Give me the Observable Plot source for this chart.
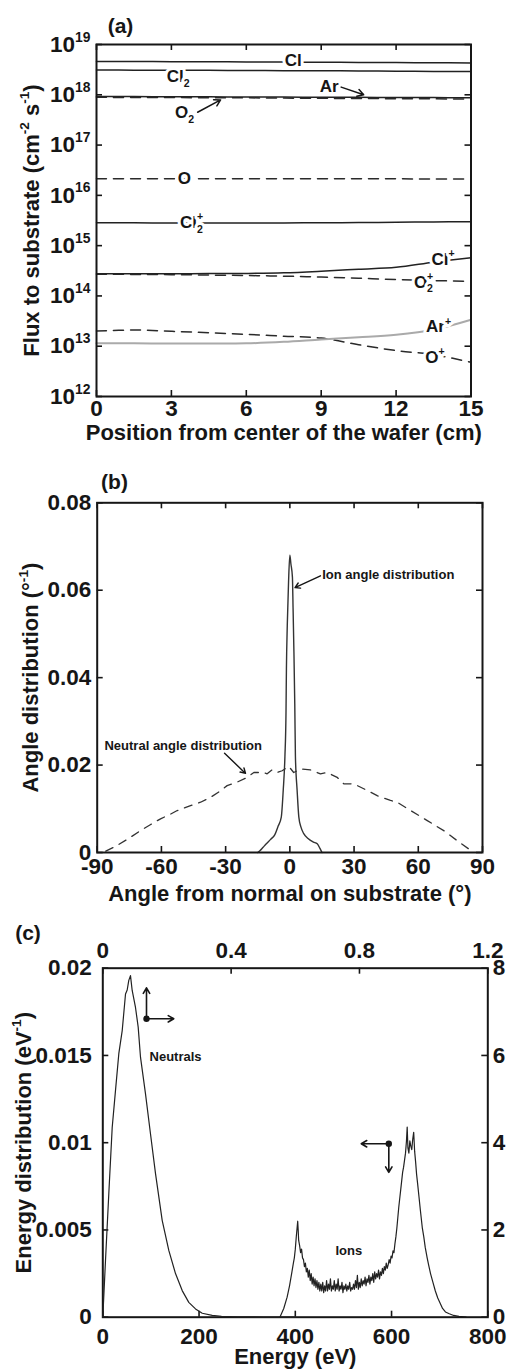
<!DOCTYPE html>
<html><head><meta charset="utf-8">
<script src="https://cdn.jsdelivr.net/npm/d3@7"></script>
<script src="https://cdn.jsdelivr.net/npm/@observablehq/plot@0.6"></script>
<style>
body{margin:0;background:#fff;}
#wrap{position:relative;width:509px;height:1371px;background:#fff;}
#wrap svg{position:absolute;left:0;}
</style></head><body><div id="wrap"></div>
<script>
// ===================== DATA =====================
// Panel (a): flux to substrate vs position (cm)
const posCm = [0, 1.5, 3, 4.5, 6, 7.5, 9, 10.5, 12, 13.5, 15];
const fluxCl   = [4.6e18, 4.58e18, 4.56e18, 4.53e18, 4.5e18, 4.47e18, 4.44e18, 4.41e18, 4.38e18, 4.34e18, 4.3e18];
const fluxCl2  = [3.1e18, 3.09e18, 3.08e18, 3.06e18, 3.04e18, 3.02e18, 3.0e18, 2.98e18, 2.95e18, 2.92e18, 2.9e18];
const fluxAr   = [9.2e17, 9.2e17, 9.15e17, 9.1e17, 9.05e17, 9.0e17, 8.95e17, 8.9e17, 8.85e17, 8.8e17, 8.7e17];
const fluxO2   = [8.9e17, 8.85e17, 8.8e17, 8.75e17, 8.7e17, 8.6e17, 8.5e17, 8.45e17, 8.35e17, 8.3e17, 8.2e17];
const fluxO    = [2.15e16, 2.15e16, 2.15e16, 2.14e16, 2.14e16, 2.14e16, 2.13e16, 2.13e16, 2.13e16, 2.12e16, 2.12e16];
const fluxCl2p = [2.85e15, 2.84e15, 2.83e15, 2.82e15, 2.82e15, 2.83e15, 2.85e15, 2.88e15, 2.92e15, 2.96e15, 3.0e15];
const fluxClp  = [2.76e14, 2.76e14, 2.76e14, 2.78e14, 2.8e14, 2.88e14, 3.1e14, 3.4e14, 3.72e14, 4.7e14, 5.75e14];
const fluxO2p  = [2.7e14, 2.68e14, 2.65e14, 2.6e14, 2.55e14, 2.47e14, 2.38e14, 2.25e14, 2.12e14, 2.02e14, 1.95e14];
const fluxArp  = [1.15e13, 1.14e13, 1.13e13, 1.13e13, 1.14e13, 1.22e13, 1.36e13, 1.5e13, 1.69e13, 2.13e13, 3.36e13];
const fluxOp   = [2.0e13, 2.1e13, 1.98e13, 1.85e13, 1.72e13, 1.58e13, 1.45e13, 1.07e13, 8.2e12, 6.8e12, 4.8e12];
const speciesA = ["Cl", "Cl2", "Ar", "O2", "O", "Cl2+", "Cl+", "O2+", "Ar+", "O+"];
const fluxA = [fluxCl, fluxCl2, fluxAr, fluxO2, fluxO, fluxCl2p, fluxClp, fluxO2p, fluxArp, fluxOp];
const aXTicks = [0, 3, 6, 9, 12, 15];
const aYTicks = [1e12, 1e13, 1e14, 1e15, 1e16, 1e17, 1e18, 1e19];
const aXTitle = "Position from center of the wafer (cm)";
const aYTitle = "Flux to substrate (cm^{-2} s^{-1})";
const labelsA = [
  {t: "Cl", x: 7.88, y: 4.75e18},
  {t: "Cl_{2}", x: 3.27, y: 2.33e18},
  {t: "Ar", x: 9.32, y: 1.47e18},
  {t: "O_{2}", x: 3.53, y: 4.4e17},
  {t: "O", x: 3.52, y: 2.17e16},
  {t: "Cl_{2}^{+}", x: 3.81, y: 2.87e15},
  {t: "Cl^{+}", x: 13.88, y: 5.27e14},
  {t: "O_{2}^{+}", x: 13.1, y: 1.88e14},
  {t: "Ar^{+}", x: 13.7, y: 2.44e13},
  {t: "O^{+}", x: 13.56, y: 5.98e12}
];
const arrowsA = [
  {x1: 9.8, y1: 1.42e18, x2: 10.7, y2: 1.0e18},
  {x1: 4.05, y1: 4.5e17, x2: 4.97, y2: 7.9e17}
];

// Panel (b): angle distributions
const ionAngle = [-15, -14, -12.5, -11, -9, -7, -5.5, -4, -3.1, -2.3, -1.8, -1.6, -1.2, -0.6, 0, 0.5, 1.2, 1.5, 1.9, 2.3, 2.6, 3.4, 4.2, 5.2, 6.5, 8.5, 11, 12.8, 14, 15];
const ionAngDist = [0, 0.0004, 0.0012, 0.002, 0.003, 0.0041, 0.006, 0.0081, 0.0142, 0.022, 0.032, 0.042, 0.052, 0.062, 0.068, 0.066, 0.063, 0.056, 0.046, 0.034, 0.022, 0.0142, 0.0081, 0.0058, 0.0043, 0.0032, 0.0024, 0.002, 0.001, 0];
const neuAngle = [-86, -80.7, -75, -69.8, -65, -60.4, -56, -52.6, -46.4, -41.7, -37.1, -33, -29.3, -24.6, -19.9, -16.8, -12.2, -10.6, -8.3, -5.9, -3.6, -0.5, 1.8, 5, 9.6, 14.3, 17.4, 22.1, 25.2, 29.9, 36.1, 40.8, 47, 50.1, 56.4, 64.2, 71.9, 78.2, 83.6, 85.2];
const neuAngDist = [0.0003, 0.0016, 0.0033, 0.005, 0.0064, 0.0077, 0.0087, 0.0096, 0.0107, 0.0115, 0.0126, 0.0139, 0.0153, 0.0161, 0.0172, 0.0183, 0.0183, 0.018, 0.0189, 0.0183, 0.0187, 0.0197, 0.0183, 0.0191, 0.0189, 0.018, 0.0183, 0.0172, 0.0157, 0.0157, 0.0142, 0.013, 0.0119, 0.0115, 0.0096, 0.0073, 0.005, 0.0027, 0.0008, 0];
const bXTicks = [-90, -60, -30, 0, 30, 60, 90];
const bYTicks = [0, 0.02, 0.04, 0.06, 0.08];
const bXTitle = "Angle from normal on substrate (°)";
const bYTitle = "Angle distribution (°^{-1})";
const labelsB = [
  {t: "Ion angle distribution", x: 15.1, y: 0.0635},
  {t: "Neutral angle distribution", x: -86.6, y: 0.0245}
];
const arrowsB = [
  {x1: 14.3, y1: 0.0633, x2: 2.4, y2: 0.0606},
  {x1: -30.5, y1: 0.0227, x2: -20.7, y2: 0.0181}
];

// Panel (c): energy distributions
// Ions: bottom axis (eV, 0-800) / left axis (eV^-1)
const ionEnergy = [368,376,383,388,393,396,398,400,402,404,405,406,407,409,411,413,415,417,419,421,423,425,427,429,431,433,435,437,439,441,443,445,447,449,451,453,455,457,459,461,463,465,467,469,471,473,475,477,479,481,483,485,487,489,491,493,495,497,499,501,503,505,507,509,511,513,515,517,519,521,523,525,527,529,531,533,535,537,539,541,543,545,547,549,551,553,555,557,559,561,563,565,567,569,571,573,575,577,579,581,583,585,587,589,591,593,595,597,599,601,603,605,607,609,611,613,615,617,619,621,623,625,627,629,631,632.5,634,636,638,640,642,644,646,648,650,652,654,657,660,664,667,670,674,677,681,686,691,696,701,706,712,720,729,740,755];
const ionEDist = [0,0.0005,0.00115,0.0018,0.0026,0.0031,0.0034,0.0039,0.0046,0.0052,0.0055,0.005,0.0044,0.0041,0.0037,0.0039,0.0034,0.0033,0.0029,0.0031,0.0026,0.0028,0.0023,0.0027,0.0021,0.0025,0.0019,0.0023,0.0018,0.0022,0.0017,0.0021,0.0016,0.002,0.0015,0.0019,0.0015,0.002,0.0014,0.0018,0.0015,0.0021,0.0015,0.0019,0.0016,0.0022,0.0015,0.0018,0.0016,0.0021,0.0015,0.0019,0.0016,0.0022,0.0015,0.0018,0.0016,0.002,0.0014,0.0018,0.0016,0.0019,0.0015,0.0018,0.0016,0.002,0.0015,0.0017,0.0016,0.0019,0.0016,0.0021,0.0017,0.0024,0.0016,0.002,0.0017,0.0022,0.0018,0.0021,0.0019,0.0023,0.0018,0.0022,0.002,0.0024,0.0019,0.0023,0.0021,0.0025,0.002,0.0026,0.0022,0.0025,0.0023,0.0027,0.0022,0.0026,0.0024,0.0028,0.0025,0.0029,0.0027,0.0031,0.0028,0.003,0.0033,0.0031,0.0035,0.0034,0.0038,0.0037,0.0042,0.0046,0.0051,0.0057,0.0063,0.0068,0.0073,0.0078,0.0083,0.0086,0.009,0.0094,0.0101,0.0109,0.0097,0.0094,0.0101,0.0098,0.0096,0.0102,0.0106,0.0095,0.0089,0.0082,0.0077,0.0069,0.0061,0.0051,0.0046,0.004,0.0034,0.003,0.0025,0.002,0.0015,0.0011,0.0008,0.0005,0.0003,0.0002,0.0001,0.00005,0];
// Neutrals: top axis (eV, 0-1.2) / right axis
const neuEnergy = [0, 0.0084, 0.0187, 0.0293, 0.0396, 0.0499, 0.0605, 0.0708, 0.076, 0.081, 0.0863, 0.0916, 0.1019, 0.1103, 0.1175, 0.1331, 0.1487, 0.1643, 0.1851, 0.2057, 0.2266, 0.2475, 0.268, 0.289, 0.31, 0.341, 0.37, 0.42, 0.5, 0.6];
const neuEDist = [0, 1.3, 2.83, 4.35, 5.2, 6.04, 6.57, 7.41, 7.5, 7.72, 7.83, 7.49, 7.1, 6.65, 5.96, 5.12, 4.2, 3.29, 2.22, 1.53, 1.0, 0.61, 0.34, 0.19, 0.09, 0.04, 0.02, 0.01, 0.005, 0];
const cXTicks = [0, 200, 400, 600, 800];
const cYTicks = [0, 0.005, 0.01, 0.015, 0.02];
const cX2Ticks = [0, 0.4, 0.8, 1.2];
const cY2Ticks = [0, 2, 4, 6, 8];
const cXTitle = "Energy (eV)";
const cYTitle = "Energy distribution (eV^{-1})";
const ionDot = [{x: 594.3, y: 0.00994}];
const ionArrows = [{x1: 594.3, y1: 0.00994, x2: 537, y2: 0.00994}, {x1: 594.3, y1: 0.00994, x2: 594.3, y2: 0.0083}];
const ionLabel = [{t: "Ions", x: 483.5, y: 0.00382}];
const neuDot = [{x: 0.1362, y: 6.84}];
const neuArrows = [{x1: 0.1362, y1: 6.84, x2: 0.1362, y2: 7.55}, {x1: 0.1362, y1: 6.84, x2: 0.2213, y2: 6.84}];
const neuLabel = [{t: "Neutrals", x: 0.1456, y: 5.96}];

// ===================== RENDER =====================
const W = 509;
const FONT = "'Liberation Sans', Arial, Helvetica, sans-serif";
const INK = "#161616";
const TITLE = 22;
const baseStyle = {fontFamily: FONT, fontWeight: "bold", fontSize: "22.5px", color: INK, background: "white", overflow: "visible"};

function richText(svg) {
  svg.querySelectorAll("text").forEach(t => {
    const s = t.textContent;
    if (!/[\^_]\{/.test(s)) return;
    const fs = parseFloat(getComputedStyle(t).fontSize) || 16;
    const parts = s.match(/\^\{[^}]*\}|_\{[^}]*\}|[^\^_]+/g);
    while (t.firstChild) t.removeChild(t.firstChild);
    let shift = 0, prev = null, prevKind = null;
    for (const p of parts) {
      const kind = p.startsWith("^{") ? "sup" : p.startsWith("_{") ? "sub" : "base";
      const ts = document.createElementNS("http://www.w3.org/2000/svg", "tspan");
      ts.textContent = kind === "base" ? p : p.slice(2, -1);
      const target = kind === "sup" ? -0.45 * fs : kind === "sub" ? 0.28 * fs : 0;
      if (kind !== "base") ts.setAttribute("font-size", (0.62 * fs).toFixed(1) + "px");
      const d = target - shift;
      if (d) ts.setAttribute("dy", d.toFixed(2));
      if (prev && kind !== "base" && prevKind !== "base" && prevKind !== kind) {
        ts.setAttribute("dx", (-prev.getComputedTextLength()).toFixed(2));
      }
      t.appendChild(ts);
      shift = target; prev = ts; prevKind = kind;
    }
  });
}

function ticksIn(xt, yt, fh, fw, sides) {
  const m = [];
  const o = {stroke: INK, strokeWidth: 1.6};
  if (sides.includes("b")) m.push(Plot.ruleX(xt, {...o, insetTop: fh - 6}));
  if (sides.includes("t")) m.push(Plot.ruleX(xt, {...o, insetBottom: fh - 6}));
  if (sides.includes("l")) m.push(Plot.ruleY(yt, {...o, insetRight: fw - 6}));
  if (sides.includes("r")) m.push(Plot.ruleY(yt, {...o, insetLeft: fw - 6}));
  return m;
}

function titles(xTitle, xdy, yTitle, ydx, tag, tdx, tdy) {
  const o = {text: d => d, fontSize: TITLE, textAnchor: "middle", lineAnchor: "middle", fill: INK};
  return [
    Plot.text([xTitle], {...o, frameAnchor: "bottom", dy: xdy}),
    Plot.text([yTitle], {...o, frameAnchor: "left", dx: ydx, rotate: -90}),
    Plot.text([tag], {...o, fontSize: 21, frameAnchor: "top-left", dx: tdx, dy: tdy})
  ];
}

const wrap = document.getElementById("wrap");
function place(svg, top) { svg.style.top = top + "px"; wrap.appendChild(svg); richText(svg); }

// ---------- Panel (a) ----------
{
  const H = 470, mt = 44, mb = 74, ml = 96, mr = 38.5;
  const fh = H - mt - mb, fw = W - ml - mr;
  const rows = speciesA.flatMap((s, i) => posCm.map((x, j) => ({s, x, y: fluxA[i][j]})));
  const solid = ["Cl", "Cl2", "Ar", "Cl2+", "Cl+"];
  const dashed = ["O2", "O", "O2+", "O+"];
  const svg = Plot.plot({
    width: W, height: H, marginTop: mt, marginBottom: mb, marginLeft: ml, marginRight: mr,
    style: baseStyle,
    x: {domain: [0, 15]},
    y: {type: "log", domain: [1e12, 1e19]},
    marks: [
      Plot.line(rows.filter(d => dashed.includes(d.s)), {x: "x", y: "y", z: "s", stroke: "#2a2a2a", strokeWidth: 1.5, strokeDasharray: "10,7", curve: "catmull-rom"}),
      Plot.line(rows.filter(d => solid.includes(d.s)), {x: "x", y: "y", z: "s", stroke: "#222", strokeWidth: 1.5, curve: "catmull-rom"}),
      Plot.line(rows.filter(d => d.s === "Ar+"), {x: "x", y: "y", stroke: "#aaaaaa", strokeWidth: 2, curve: "catmull-rom"}),
      Plot.text(labelsA, {x: "x", y: "y", text: "t", fontSize: 17, fill: INK, stroke: "white", strokeWidth: 6, paintOrder: "stroke"}),
      Plot.arrow(arrowsA, {x1: "x1", y1: "y1", x2: "x2", y2: "y2", stroke: INK, strokeWidth: 1.5, headLength: 7}),
      ...ticksIn(aXTicks, aYTicks, fh, fw, "btlr"),
      Plot.frame({stroke: INK, strokeWidth: 2}),
      Plot.axisX({ticks: aXTicks, tickSize: 0, tickPadding: 4, label: null, tickFormat: d => String(d)}),
      Plot.axisY({ticks: aYTicks, tickSize: 0, tickPadding: 6, label: null, tickFormat: d => "10^{" + Math.round(Math.log10(d)) + "}"}),
      ...titles(aXTitle, 36, aYTitle, -65, "(a)", 24, -18.5)
    ]
  });
  place(svg, 0);
}

// ---------- Panel (b) ----------
{
  const H = 440, mt = 32.3, mb = 58, ml = 96.7, mr = 27;
  const fh = H - mt - mb, fw = W - ml - mr;
  const ion = ionAngle.map((x, i) => ({x, y: ionAngDist[i]}));
  const neu = neuAngle.map((x, i) => ({x, y: neuAngDist[i]}));
  const svg = Plot.plot({
    width: W, height: H, marginTop: mt, marginBottom: mb, marginLeft: ml, marginRight: mr,
    style: baseStyle,
    x: {domain: [-90, 90]},
    y: {domain: [0, 0.08]},
    marks: [
      Plot.line(neu, {x: "x", y: "y", stroke: "#333", strokeWidth: 1.3, strokeDasharray: "8,7"}),
      Plot.line(ion, {x: "x", y: "y", stroke: "#333", strokeWidth: 1.4, curve: "monotone-x"}),
      Plot.text(labelsB, {x: "x", y: "y", text: "t", fontSize: 13, textAnchor: "start", fill: INK}),
      Plot.arrow(arrowsB, {x1: "x1", y1: "y1", x2: "x2", y2: "y2", stroke: INK, strokeWidth: 1.4, headLength: 6}),
      ...ticksIn(bXTicks, bYTicks, fh, fw, "btlr"),
      Plot.frame({stroke: INK, strokeWidth: 2}),
      Plot.axisX({ticks: bXTicks, tickSize: 0, tickPadding: 6, label: null, tickFormat: d => String(d)}),
      Plot.axisY({ticks: bYTicks, tickSize: 0, tickPadding: 6, label: null, tickFormat: d => d === 0 ? "0" : d.toFixed(2)}),
      ...titles(bXTitle, 41, bYTitle, -66.7, "(b)", 17.3, -20.3)
    ]
  });
  place(svg, 470);
}

// ---------- Panel (c) ----------
{
  const H = 461, mt = 57.7, mb = 54.3, ml = 102.3, mr = 21.7;
  const fh = H - mt - mb, fw = W - ml - mr;
  const ion = ionEnergy.map((x, i) => ({x, y: ionEDist[i]}));
  const neu = neuEnergy.map((x, i) => ({x, y: neuEDist[i]}));
  const dims = {width: W, height: H, marginTop: mt, marginBottom: mb, marginLeft: ml, marginRight: mr};
  const svgIon = Plot.plot({
    ...dims,
    style: baseStyle,
    x: {domain: [0, 800]},
    y: {domain: [0, 0.02]},
    marks: [
      Plot.line(ion, {x: "x", y: "y", stroke: "#222", strokeWidth: 1.2}),
      Plot.dot(ionDot, {x: "x", y: "y", r: 3.2, fill: INK, stroke: "none"}),
      Plot.arrow(ionArrows, {x1: "x1", y1: "y1", x2: "x2", y2: "y2", stroke: INK, strokeWidth: 1.6, headLength: 6}),
      Plot.text(ionLabel, {x: "x", y: "y", text: "t", fontSize: 13, textAnchor: "start", fill: INK}),
      ...ticksIn(cXTicks, cYTicks, fh, fw, "bl"),
      Plot.frame({stroke: INK, strokeWidth: 2}),
      Plot.axisX({ticks: cXTicks, tickSize: 0, tickPadding: 11, label: null, tickFormat: d => String(d)}),
      Plot.axisY({ticks: cYTicks, tickSize: 0, tickPadding: 11, label: null, tickFormat: d => d === 0 ? "0" : String(+d.toFixed(3))}),
      ...titles(cXTitle, 39.3, cYTitle, -79, "(c)", -74.8, -34.7)
    ]
  });
  place(svgIon, 910);
  const svgNeu = Plot.plot({
    ...dims,
    style: {...baseStyle, background: "transparent"},
    x: {domain: [0, 1.2]},
    y: {domain: [0, 8]},
    marks: [
      Plot.line(neu, {x: "x", y: "y", stroke: "#222", strokeWidth: 1.2}),
      Plot.dot(neuDot, {x: "x", y: "y", r: 3.2, fill: INK, stroke: "none"}),
      Plot.arrow(neuArrows, {x1: "x1", y1: "y1", x2: "x2", y2: "y2", stroke: INK, strokeWidth: 1.6, headLength: 6}),
      Plot.text(neuLabel, {x: "x", y: "y", text: "t", fontSize: 13, textAnchor: "start", fill: INK}),
      ...ticksIn(cX2Ticks, cY2Ticks, fh, fw, "tr"),
      Plot.axisX({anchor: "top", ticks: cX2Ticks, tickSize: 0, tickPadding: 10, label: null, tickFormat: d => String(d)}),
      Plot.axisY({anchor: "right", ticks: cY2Ticks, tickSize: 0, tickPadding: 5, label: null, tickFormat: d => String(d)})
    ]
  });
  place(svgNeu, 910);
}
</script></body></html>
